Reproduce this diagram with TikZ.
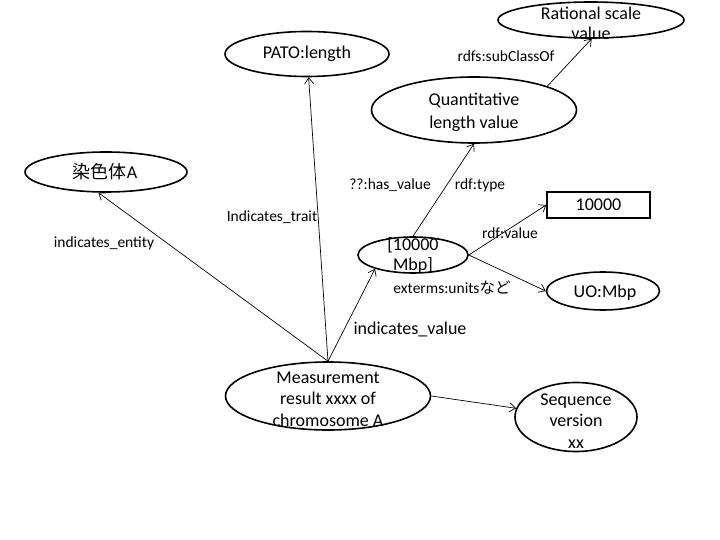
\documentclass[tikz,border=0pt]{standalone}
\usepackage{fontspec}
\setmainfont{Carlito}
\newfontfamily\cjk{Noto Sans CJK JP}
\usetikzlibrary{shapes,arrows.meta}
\tikzstyle{el}=[ellipse,draw=black,line width=1.6pt,inner sep=0pt]
\tikzstyle{bx}=[rectangle,draw=black,line width=1.6pt,inner sep=0pt]
\tikzstyle{tx}=[align=center,inner sep=0pt,font=\fontsize{18}{21.5}\selectfont]
\tikzstyle{lb}=[inner sep=0pt,font=\fontsize{15.5}{18}\selectfont]
\tikzstyle{ar}=[line width=0.7pt,-{Straight Barb[length=6pt,width=9pt]}]

\begin{document}
\begin{tikzpicture}[x=1pt,y=-1pt]
\useasboundingbox (0,0) rectangle (720,540);
% shapes
\node[el,minimum width=186pt,minimum height=36pt] (rat) at (591,20) {};
\node[el,minimum width=164pt,minimum height=45pt] (pato) at (307,54) {};
\node[el,minimum width=205pt,minimum height=66pt] (quant) at (474,110) {};
\node[el,minimum width=162pt,minimum height=40pt] (chrom) at (106,172) {};
\node[el,minimum width=110pt,minimum height=36pt] (num) at (413,255) {};
\node[bx,minimum width=103pt,minimum height=26pt] (ten) at (598.5,205) {};
\node[el,minimum width=113pt,minimum height=38pt] (uo) at (603,291) {};
\node[el,minimum width=205pt,minimum height=68pt] (meas) at (328,396) {};
\node[el,minimum width=122pt,minimum height=69pt] (seq) at (576,417) {};
% texts
\node[tx,font=\fontsize{18}{20}\selectfont] (rattx) at (591,23) {Rational scale\\value};
\node[tx] (patotx) at (307,54) {PATO:length};
\node[tx,font=\fontsize{18}{23}\selectfont] (quanttx) at (474,112) {Quantitative\\length value};
\node[tx] (chromtx) at (105,172) {{\cjk 染色体}A};
\node[tx,font=\fontsize{18}{20}\selectfont] (numtx) at (413,255) {[10000\\Mbp]};
\node[tx] (tentx) at (598.5,205) {10000};
\node[tx] (uotx) at (605,293) {UO:Mbp};
\node[tx] (meastx) at (328,399) {Measurement\\result xxxx of\\chromosome A};
\node[tx] (seqtx) at (576,421) {Sequence\\version\\xx};
% labels
\node[lb] (subcl) at (506,56) {rdfs:subClassOf};
\node[lb] (hasval) at (390,185) {??:has\_value};
\node[lb] (rdftype) at (480,185) {rdf:type};
\node[lb] (rdfval) at (510,233) {rdf:value};
\node[lb] (units) at (452,288) {exterms:units{\cjk など}};
\node[lb,font=\fontsize{18}{21}\selectfont] (indval) at (410,329) {indicates\_value};
\node[lb] (indtr) at (272,217) {Indicates\_trait};
\node[lb] (indent) at (104,243) {indicates\_entity};
% arrows
\draw[ar] (meas.north) -- (chrom.250);
\draw[ar] (meas.north) -- (pato);
\draw[ar] (meas.north) -- (num.200);
\draw[ar] (meas.east) -- (seq);
\draw[ar] (num.north) -- (quant.south);
\draw[ar] (quant.18) -- (rat.272);
\draw[ar] (num.east) -- (ten.west);
\draw[ar] (num.east) -- (uo.west);
\end{tikzpicture}
\end{document}
